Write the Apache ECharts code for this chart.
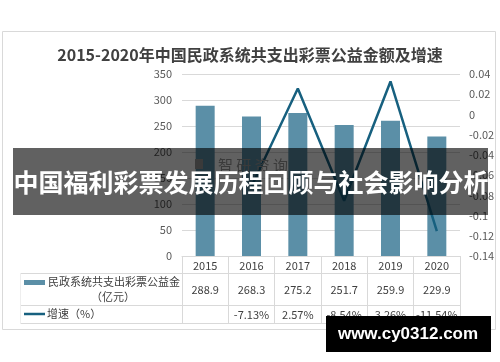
<!DOCTYPE html>
<html><head><meta charset="utf-8">
<script src="https://cdn.jsdelivr.net/npm/echarts@6/dist/echarts.min.js"></script>
<style>html,body{margin:0;padding:0;background:#fff}#c{width:500px;height:362px}</style>
</head><body><div id="c"></div>
<script>
var titleText = '2015-2020年中国民政系统共支出彩票公益金额及增速';
var years = ['2015','2016','2017','2018','2019','2020'];
var amounts = [288.9, 268.3, 275.2, 251.7, 259.9, 229.9];
var growth = [null, -0.0713, 0.0257, -0.0854, 0.0326, -0.1154];
var growthLabels = ['', '-7.13%', '2.57%', '-8.54%', '3.26%', '-11.54%'];
var barName = '民政系统共支出彩票公益金';
var barUnit = '（亿元）';
var lineName = '增速（%）';
var bannerText = '中国福利彩票发展历程回顾与社会影响分析';
var siteText = 'www.cy0312.com';
var faintText = '智 研 资 询';

var barColor = '#5b8fa7';
var lineColor = '#17607f';
var txt = '#404040';
var grid = '#d9d9d9';
var F = '"Noto Sans CJK SC","Noto Sans",sans-serif';

var chart = echarts.init(document.getElementById('c'));
var hideAxis = {show:false};
chart.setOption({
  animation:false,
  textStyle:{fontFamily:F},
  title:{text:titleText,left:'center',top:42,textStyle:{fontSize:16,fontWeight:'bold',color:txt,fontFamily:F}},
  grid:{left:182,right:40,top:74,bottom:106},
  xAxis:[
    {type:'category',data:years,position:'bottom',
     axisLine:{lineStyle:{color:grid}},
     axisTick:{show:true,interval:0,length:67,lineStyle:{color:grid}},
     axisLabel:{color:txt,fontSize:11,margin:4,interval:0,fontFamily:F}},
    {type:'category',data:amounts.map(function(v){return v.toFixed(1);}),position:'bottom',offset:28,
     axisLine:hideAxis,axisTick:hideAxis,axisLabel:{color:txt,fontSize:11,margin:0,interval:0,fontFamily:F}},
    {type:'category',data:growthLabels,position:'bottom',offset:53,
     axisLine:hideAxis,axisTick:hideAxis,axisLabel:{color:txt,fontSize:11,margin:0,interval:0,fontFamily:F}}
  ],
  yAxis:[
    {type:'value',min:0,max:350,interval:50,
     axisLine:{show:false},axisTick:{show:false},
     splitLine:{lineStyle:{color:grid}},
     axisLabel:{color:'#595959',fontSize:11,margin:10,fontFamily:F}},
    {type:'value',min:-0.14,max:0.04,interval:0.02,position:'right',
     axisLine:{show:false},axisTick:{show:false},splitLine:{show:false},
     axisLabel:{color:'#595959',fontSize:11,margin:9,fontFamily:F,
       formatter:function(v){return String(Math.round(v*100)/100);}}}
  ],
  series:[
    {name:barName,type:'bar',data:amounts,barWidth:19,itemStyle:{color:barColor}},
    {name:lineName,type:'line',yAxisIndex:1,data:growth,symbol:'none',connectNulls:false,
     lineStyle:{color:lineColor,width:2.5}}
  ],
  graphic:[
    {type:'rect',shape:{x:2.5,y:31.5,width:493,height:298},style:{fill:'none',stroke:grid,lineWidth:1},z:1,silent:true},
    {type:'line',shape:{x1:20,y1:273.5,x2:460,y2:273.5},style:{stroke:grid,lineWidth:1},z:1},
    {type:'line',shape:{x1:20,y1:305.5,x2:460,y2:305.5},style:{stroke:grid,lineWidth:1},z:1},
    {type:'line',shape:{x1:20,y1:323.5,x2:460,y2:323.5},style:{stroke:grid,lineWidth:1},z:1},
    {type:'line',shape:{x1:20.5,y1:273,x2:20.5,y2:324},style:{stroke:'#eeeeee',lineWidth:1},z:1},
    {type:'rect',shape:{x:24,y:280,width:21,height:5},style:{fill:barColor},z:5},
    {type:'text',x:48,y:282,style:{text:barName,font:'11px '+F,fill:txt,textVerticalAlign:'middle'},z:5},
    {type:'text',x:113,y:297,style:{text:barUnit,font:'11px '+F,fill:txt,textAlign:'center',textVerticalAlign:'middle'},z:5},
    {type:'line',shape:{x1:24,y1:314,x2:45,y2:314},style:{stroke:lineColor,lineWidth:2.5},z:5},
    {type:'text',x:47,y:314,style:{text:lineName,font:'11px '+F,fill:txt,textVerticalAlign:'middle'},z:5},
    {type:'rect',shape:{x:195,y:159,width:8,height:10},style:{fill:'#9a9a9a'},z:6},
    {type:'text',x:218,y:165,style:{text:faintText,font:'15px '+F,fill:'#9a9a9a',textVerticalAlign:'middle'},z:6},
    {type:'rect',shape:{x:13,y:148,width:475,height:67},style:{fill:'rgba(0,0,0,0.62)'},z:100},
    {type:'text',x:251,y:182,style:{text:bannerText,font:'bold 25px '+F,fill:'#ffffff',textAlign:'center',textVerticalAlign:'middle'},z:101},
    {type:'rect',shape:{x:326,y:316,width:165,height:36},style:{fill:'#000000'},z:100},
    {type:'text',x:408,y:334,style:{text:siteText,font:'bold 17px "Liberation Sans",Arial,sans-serif',fill:'#ffffff',textAlign:'center',textVerticalAlign:'middle'},z:101}
  ]
});
</script></body></html>
